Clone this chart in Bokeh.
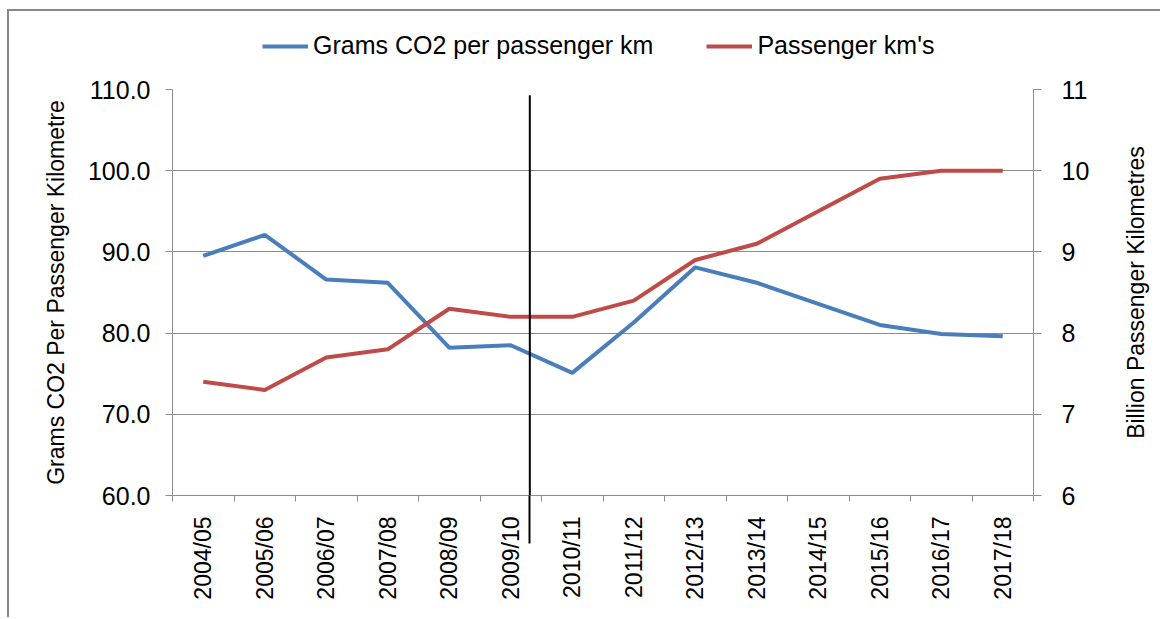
import math
from bokeh.plotting import figure
from bokeh.layouts import column, row
from bokeh.models import (Range1d, LinearAxis, FixedTicker, NumeralTickFormatter,
                          Legend, LegendItem, Label)
from bokeh.embed import file_html
from bokeh.resources import INLINE

# ---- data ----
categories = ["2004/05", "2005/06", "2006/07", "2007/08", "2008/09", "2009/10", "2010/11",
              "2011/12", "2012/13", "2013/14", "2014/15", "2015/16", "2016/17", "2017/18"]
co2_per_pkm = [89.5, 92.1, 86.6, 86.2, 78.2, 78.5, 75.1, 81.3, 88.1, 86.2, 83.6, 81.0, 79.9, 79.6]
passenger_km = [7.4, 7.3, 7.7, 7.8, 8.3, 8.2, 8.2, 8.4, 8.9, 9.1, 9.5, 9.9, 10.0, 10.0]
left_ticks = [60, 70, 80, 90, 100, 110]
right_ticks = [6, 7, 8, 9, 10, 11]
divider_position = 5.31   # between 2009/10 and 2010/11 (category index units)
divider_top = 109.3       # in left-axis units

FONT = "Liberation Sans"
GRID = "#8c8c8c"
BLUE = "#4a7ebb"
RED = "#be4b48"
W = 1151
MAIN_W = 1083
TITLE_W = W - MAIN_W
BORDER_L, BORDER_T, BORDER_B = 163, 15, 122

idx = list(range(len(categories)))

# ---------- legend strip ----------
lf = figure(width=W, height=63, output_backend="svg", toolbar_location=None,
            x_axis_type=None, y_axis_type=None,
            x_range=Range1d(100, 101), y_range=Range1d(100, 101),
            min_border_left=BORDER_L, min_border_right=126, min_border_top=0, min_border_bottom=0)
lf.grid.visible = False
lf.outline_line_color = None
lr1 = lf.line(idx, co2_per_pkm, line_color=BLUE, line_width=4)
lr2 = lf.line(idx, passenger_km, line_color=RED, line_width=4)
legend = Legend(items=[LegendItem(label="Grams CO2 per passenger km", renderers=[lr1]),
                       LegendItem(label="Passenger km's", renderers=[lr2])],
                orientation="horizontal", location=(90, 14),
                label_text_font=FONT, label_text_font_size="25px", label_text_color="#000000",
                glyph_width=46, label_standoff=5, spacing=53, padding=0, margin=0,
                border_line_color=None, background_fill_alpha=0)
lf.add_layout(legend, "center")

# ---------- main chart ----------
p = figure(width=MAIN_W, height=543, output_backend="svg", toolbar_location=None,
           x_range=Range1d(-0.5, len(categories) - 0.5), y_range=Range1d(60, 110),
           min_border_left=BORDER_L, min_border_right=0,
           min_border_top=BORDER_T, min_border_bottom=BORDER_B)
p.outline_line_color = None
p.extra_y_ranges = {"km": Range1d(6, 11)}

# axis nearest the frame: line, boundary ticks, and the divider's lower part
xa = p.xaxis[0]
xa.ticker = FixedTicker(ticks=[divider_position],
                        minor_ticks=[i - 0.5 for i in range(len(categories) + 1)])
xa.major_label_overrides = {divider_position: ""}
xa.major_label_text_font_size = "0px"
xa.major_label_standoff = 0
xa.major_tick_out = 48
xa.major_tick_in = 0
xa.major_tick_line_color = "#000000"
xa.major_tick_line_width = 2
xa.minor_tick_out = 6
xa.minor_tick_in = 0
xa.minor_tick_line_color = GRID
xa.axis_line_color = GRID

# category labels
xl = LinearAxis(ticker=FixedTicker(ticks=idx, minor_ticks=[]))
xl.major_label_overrides = {i: c for i, c in zip(idx, categories)}
xl.major_label_orientation = math.pi / 2
xl.major_tick_out = 0
xl.major_tick_in = 0
xl.minor_tick_out = 0
xl.minor_tick_in = 0
xl.axis_line_color = None
xl.major_label_text_font = FONT
xl.major_label_text_font_size = "23px"
xl.major_label_text_color = "#000000"
xl.major_label_standoff = -27
p.add_layout(xl, "below")

ya = p.yaxis[0]
ya.ticker = FixedTicker(ticks=left_ticks)
ya.formatter = NumeralTickFormatter(format="0.0")
ya.axis_label = "Grams CO2 Per Passenger Kilometre"
ya.axis_label_text_font = FONT
ya.axis_label_text_font_size = "23px"
ya.axis_label_text_font_style = "normal"
ya.axis_label_text_color = "#000000"
ya.axis_label_standoff = 16
ya.major_label_text_font = FONT
ya.major_label_text_font_size = "25px"
ya.major_label_text_color = "#000000"
ya.major_label_standoff = 15
ya.major_tick_out = 7
ya.major_tick_in = 0
ya.minor_tick_out = 0
ya.minor_tick_in = 0
ya.axis_line_color = GRID
ya.major_tick_line_color = GRID

# right axis: ticks and labels
ra = LinearAxis(y_range_name="km", ticker=FixedTicker(ticks=right_ticks),
                formatter=NumeralTickFormatter(format="0"))
ra.major_label_text_font = FONT
ra.major_label_text_font_size = "25px"
ra.major_label_text_color = "#000000"
ra.major_label_standoff = 20
ra.major_tick_out = 8
ra.major_tick_in = 0
ra.minor_tick_out = 0
ra.minor_tick_in = 0
ra.axis_line_color = GRID
ra.major_tick_line_color = GRID
p.add_layout(ra, "right")

p.xgrid.visible = False
p.ygrid.grid_line_color = GRID
p.ygrid.grid_line_width = 1
p.ygrid.ticker = FixedTicker(ticks=left_ticks)

p.line(idx, co2_per_pkm, line_color=BLUE, line_width=4)
p.line(idx, passenger_km, line_color=RED, line_width=4, y_range_name="km")

# divider, upper part (inside the plot area)
p.segment(x0=[divider_position], y0=[divider_top], x1=[divider_position], y1=[left_ticks[0]],
          line_color="#000000", line_width=2)

# ---------- right-hand title strip (same vertical extent as the plot area) ----------
tf = figure(width=TITLE_W, height=543, output_backend="svg", toolbar_location=None,
            x_axis_type=None, y_axis_type=None,
            x_range=Range1d(0, TITLE_W), y_range=Range1d(0, 1),
            min_border_left=0, min_border_right=0,
            min_border_top=BORDER_T, min_border_bottom=BORDER_B)
tf.grid.visible = False
tf.outline_line_color = None
tf.add_layout(Label(x=43, y=0.5, text="Billion Passenger Kilometres", angle=math.pi / 2,
                    text_align="center", text_baseline="middle", text_font=FONT,
                    text_font_size="23px", text_color="#000000"))

layout = column(lf, row(p, tf, spacing=0), spacing=0,
                styles={"border-top": "2px solid #878787", "border-left": "2px solid #878787",
                        "margin-left": "7px", "margin-top": "9px"})

open("out.html", "w").write(file_html(layout, INLINE))
